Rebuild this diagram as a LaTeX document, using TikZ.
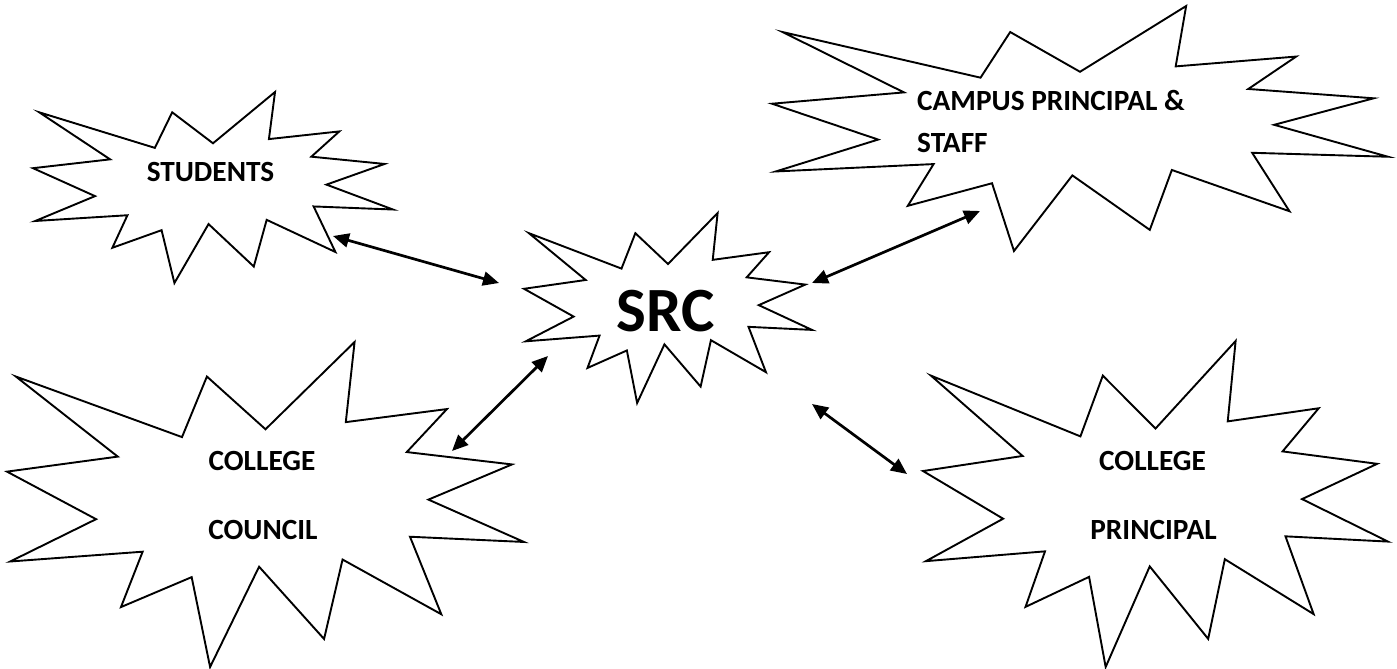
\documentclass[tikz,border=0pt]{standalone}
\usepackage{fontspec}
\setmainfont{Carlito}
\usetikzlibrary{arrows.meta}
\newcommand\explpath{(50,26.852) -- (67.231,0) -- (65.532,24.653) -- (85.093,20.634) -- (77.324,33.866) -- (97.671,37.671) -- (81.514,48.495) -- (100,61.528) -- (77.949,59.917) -- (84.005,83.773) -- (64.907,66.931) -- (61.329,91.375) -- (48.759,69.144) -- (39.282,100) -- (35.718,72.347) -- (22.046,81.560) -- (26.236,64.523) -- (0.625,67.532) -- (17.231,54.514) -- (0,39.884) -- (21.421,35.264) -- (1.713,10.625) -- (33.852,29.259) -- (38.667,10.625) -- cycle}
\tikzset{
  shapeline/.style={draw=black, line width=1.9pt, line join=miter, fill=white},
  biarrow/.style={line width=2.7pt, {Triangle[length=16pt,width=14pt]}-{Triangle[length=16pt,width=14pt]}},
  lbl/.style={inner sep=0pt, font=\fontsize{29.3}{33}\selectfont\bfseries, anchor=base},
  lblw/.style={lbl, anchor=base west},
  big/.style={inner sep=0pt, font=\fontsize{63}{70}\selectfont\bfseries, anchor=base}
}
\begin{document}
\begin{tikzpicture}[x=1pt, y=-1pt]
\useasboundingbox (0,0) rectangle (1397,669);
% explosion shapes
\begin{scope}[shift={(33,92)}, xscale=3.60, yscale=1.91]
  \draw[shapeline] \explpath;
\end{scope}
\begin{scope}[shift={(772,6)}, xscale=6.16, yscale=2.45]
  \draw[shapeline] \explpath;
\end{scope}
\begin{scope}[shift={(524,213)}, xscale=2.88, yscale=1.90]
  \draw[shapeline] \explpath;
\end{scope}
\begin{scope}[shift={(7,342)}, xscale=5.17, yscale=3.25]
  \draw[shapeline] \explpath;
\end{scope}
\begin{scope}[shift={(923,341)}, xscale=4.65, yscale=3.26]
  \draw[shapeline] \explpath;
\end{scope}
% labels
\node[lbl] (students) at (210.5,181) {STUDENTS};
\node[lblw] (campus1) at (917,110) {CAMPUS PRINCIPAL \&};
\node[lblw] (campus2) at (917,152) {STAFF};
\node[big] (src) at (666,331.5) {SRC};
\node[lbl] (council1) at (262,470) {COLLEGE};
\node[lbl] (council2) at (263,539) {COUNCIL};
\node[lbl] (principal1) at (1152.5,470) {COLLEGE};
\node[lbl] (principal2) at (1153.5,539) {PRINCIPAL};
% connector ends
\coordinate (stA) at (333,236);
\coordinate (stB) at (499,283);
\coordinate (caA) at (980,211);
\coordinate (caB) at (812,283);
\coordinate (coA) at (548,356);
\coordinate (coB) at (452,451);
\coordinate (prA) at (812,404);
\coordinate (prB) at (907,474);
\draw[biarrow] (stA) -- (stB);
\draw[biarrow] (caA) -- (caB);
\draw[biarrow] (coA) -- (coB);
\draw[biarrow] (prA) -- (prB);
\end{tikzpicture}
\end{document}
